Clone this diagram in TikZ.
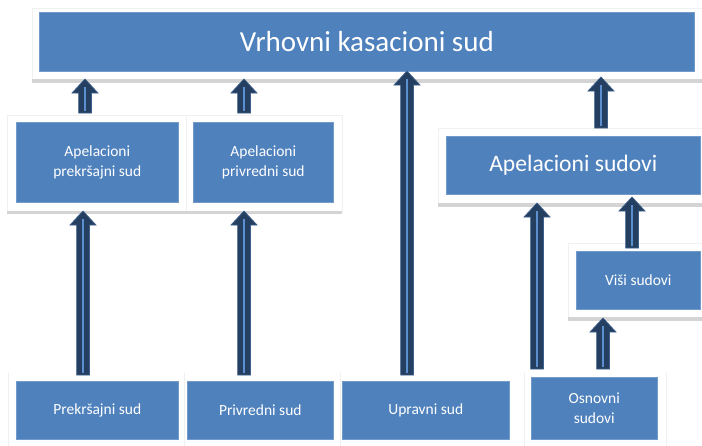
\documentclass[tikz,border=0pt]{standalone}
\usepackage{fontspec}
\setmainfont{Carlito}
\usetikzlibrary{calc}
\definecolor{boxblue}{HTML}{4F81BD}
\definecolor{arrowdark}{HTML}{243F60}
\definecolor{arrowedge}{HTML}{3D5F8C}
\definecolor{corelight}{HTML}{5B8FD0}
\definecolor{framegray}{HTML}{F0F0F0}
\definecolor{shadowgray}{HTML}{D4D4D4}
\tikzset{
  court/.style={fill=boxblue, draw=boxblue!80!white, line width=0.6pt, text=white, inner sep=0pt, anchor=north west, align=center, font=\fontsize{15.5}{19.5}\selectfont},
  frame/.style={fill=white, draw=framegray, line width=0.6pt},
  frameline/.style={draw=framegray, line width=0.6pt},
  shadowbar/.style={fill=shadowgray},
  arrowbody/.style={fill=arrowdark, draw=arrowedge, line width=0.7pt, line join=miter},
  arrowcore/.style={draw=corelight, line width=1.6pt}
}
\newcommand\courtarrow[2]{%
  \path[arrowbody] let \p1=(#1), \p2=(#2) in
    (\x1-6.4pt,\y1) -- (\x1-6.4pt,\y2-14pt) -- (\x1-13pt,\y2-14pt) -- (\x2,\y2)
    -- (\x1+13pt,\y2-14pt) -- (\x1+6.4pt,\y2-14pt) -- (\x1+6.4pt,\y1) -- cycle;
  \path[arrowcore] let \p1=(#1), \p2=(#2) in (\x1,\y1+2pt) -- (\x1,\y2-8pt);
}
\begin{document}
\begin{tikzpicture}[x=1pt,y=-1pt]
\useasboundingbox (0,0) rectangle (702,445);
\fill[white] (0,0) rectangle (702,445);

% frames (white panels with light edge and grey bottom shadow)
\path[frame] (32,8) rectangle (703,79);
\path[shadowbar] (32,79) rectangle (703,83);
\path[frame] (7,115) rectangle (342,211);
\path[frameline] (186,115) -- (186,211);
\path[shadowbar] (7,211) rectangle (342,214);
\path[frame] (438,128) rectangle (703,203);
\path[shadowbar] (438,203) rectangle (703,207);
\path[frame] (568,243) rectangle (703,317);
\path[shadowbar] (568,317) rectangle (703,321);
\path[frameline] (8,373) -- (8,446);
\path[frameline] (184,373) -- (184,446);
\path[frameline] (340,373) -- (340,446);
\path[frameline] (524,373) -- (524,446);
\path[frameline] (666,373) -- (666,446);

% court boxes
\node[court, minimum width=655pt, minimum height=59pt, font=\fontsize{29}{34}\selectfont] (vks) at (39,12) {Vrhovni kasacioni sud};
\node[court, minimum width=162pt, minimum height=80pt] (apk) at (16,122) {Apelacioni\\prekršajni sud};
\node[court, minimum width=140pt, minimum height=80pt] (apv) at (193,122) {Apelacioni\\privredni sud};
\node[court, minimum width=254pt, minimum height=58pt, font=\fontsize{23.6}{28}\selectfont] (aps) at (446,136) {Apelacioni sudovi};
\node[court, minimum width=124pt, minimum height=58pt] (visi) at (576,251) {Viši sudovi};
\node[court, minimum width=162pt, minimum height=58pt] (pks) at (16,381) {Prekršajni sud};
\node[court, minimum width=146pt, minimum height=58pt] (pvs) at (187,381) {Privredni sud};
\node[court, minimum width=167pt, minimum height=58pt] (ups) at (342,381) {Upravni sud};
\node[court, minimum width=126pt, minimum height=62pt] (oss) at (531,377) {Osnovni\\sudovi};

% arrow end points
\coordinate (a1s) at (85,113);  \coordinate (a1e) at (85,79);
\coordinate (a2s) at (244,113); \coordinate (a2e) at (244,79);
\coordinate (a3s) at (407,375); \coordinate (a3e) at (407,71);
\coordinate (a4s) at (601,128); \coordinate (a4e) at (601,77);
\coordinate (a5s) at (83,375);  \coordinate (a5e) at (83,211);
\coordinate (a6s) at (244,375); \coordinate (a6e) at (244,211);
\coordinate (a7s) at (537,369); \coordinate (a7e) at (537,203);
\coordinate (a8s) at (632,248); \coordinate (a8e) at (632,197);
\coordinate (a9s) at (603,369); \coordinate (a9e) at (603,318);

\courtarrow{a1s}{a1e}
\courtarrow{a2s}{a2e}
\courtarrow{a3s}{a3e}
\courtarrow{a4s}{a4e}
\courtarrow{a5s}{a5e}
\courtarrow{a6s}{a6e}
\courtarrow{a7s}{a7e}
\courtarrow{a8s}{a8e}
\courtarrow{a9s}{a9e}
\end{tikzpicture}
\end{document}
